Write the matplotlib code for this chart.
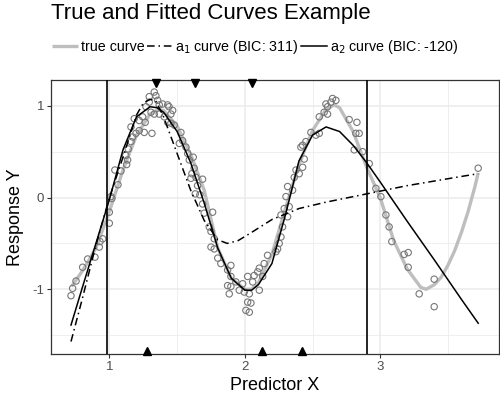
import numpy as np
import matplotlib
matplotlib.use("Agg")
import matplotlib.pyplot as plt
import matplotlib.transforms as mtransforms

plt.rcParams['font.family'] = ['Liberation Sans', 'DejaVu Sans']

# ---------------------------
# data
# ---------------------------

# observed (x, y) pairs
obs_x = [0.716, 0.728, 0.753, 0.802, 0.839, 0.893, 0.925, 0.93, 0.95, 0.999, 0.999, 1.011, 1.018, 1.063,
         1.04, 1.085, 1.127, 1.134, 1.12, 1.139, 1.159, 1.171, 1.159, 1.196, 1.22, 1.22, 1.183, 1.245,
         1.264, 1.257, 1.314, 1.27, 1.294, 1.294, 1.331, 1.343, 1.356, 1.307, 1.331, 1.368, 1.368, 1.393,
         1.405, 1.43, 1.44, 1.454, 1.467, 1.43, 1.454, 1.479, 1.528, 1.541, 1.516, 1.565, 1.578, 1.59,
         1.619, 1.626, 1.609, 1.639, 1.688, 1.634, 1.668,
         1.602, 1.651, 1.688, 1.70, 1.762, 1.737, 1.75, 1.774, 1.75, 1.774, 1.80, 1.823, 1.897, 1.873,
         1.897, 1.873, 1.897, 1.885, 1.934, 1.959, 1.984, 1.996, 2.021, 2.033, 2.021, 2.045, 2.008, 2.033,
         2.058, 2.069, 2.095, 2.107, 2.107, 2.132, 2.143, 2.168,
         2.23, 2.242, 2.254, 2.267, 2.279, 2.267, 2.316, 2.291, 2.328, 2.304, 2.316, 2.353, 2.365, 2.378,
         2.402, 2.427, 2.439, 2.414, 2.427, 2.451, 2.488, 2.525, 2.55, 2.55, 2.586, 2.599, 2.636, 2.648,
         2.673, 2.611, 2.611,
         2.771, 2.828, 2.82, 2.845, 2.808, 2.87, 2.919, 2.968, 3.005, 3.042, 3.066, 3.086, 3.177, 3.207,
         3.207, 3.288, 3.399, 3.399, 3.724]
obs_y = [-1.07, -0.99, -0.91, -0.76, -0.67, -0.65, -0.54, -0.48, -0.45, -0.28, -0.16, 0.01, -0.01, 0.14,
         0.30, 0.29, 0.36, 0.41, 0.46, 0.53, 0.61, 0.66, 0.77, 0.70, 0.73, 0.84, 0.86, 0.88,
         0.82, 0.71, 0.70, 0.99, 1.04, 1.10, 1.15, 1.11, 1.06, 0.93, 0.91, 0.91, 1.01, 1.02,
         0.88, 1.01, 0.99, 0.91, 0.95, 0.82, 0.81, 0.79, 0.71, 0.62, 0.59, 0.55, 0.48, 0.41,
         0.44, 0.32, 0.26, 0.22, 0.20, 0.04, 0.03,
         0.21, 0.13, -0.07, -0.17, -0.16, -0.32, -0.37, -0.45, -0.54, -0.56, -0.66, -0.72, -0.74, -0.79,
         -0.86, -0.96, -0.97, -1.05, -0.92, -1.01, -0.94, -1.03, -0.86, -1.05, -1.14, -1.15, -1.23, -1.25,
         -0.92, -0.85, -0.81, -0.77, -1.01, -0.86, -0.72, -0.63,
         -0.59, -0.56, -0.50, -0.43, -0.32, -0.19, -0.21, -0.12, -0.10, 0.01, 0.12, 0.08, 0.22, 0.30,
         0.26, 0.33, 0.42, 0.55, 0.57, 0.61, 0.71, 0.68, 0.70, 0.88, 0.93, 1.02, 1.04, 1.08,
         1.06, 0.99, 0.91,
         0.85, 0.82, 0.70, 0.70, 0.52, 0.50, 0.37, 0.10, 0.01, -0.19, -0.32, -0.48, -0.62, -0.60,
         -0.76, -1.05, -0.89, -1.19, 0.32]

# true curve
true_x = [0.72, 0.8, 0.85, 0.9, 1.0, 1.1, 1.2, 1.3, 1.36, 1.4, 1.5, 1.6, 1.7, 1.8, 1.9, 2.0, 2.05,
          2.1, 2.2, 2.3, 2.4, 2.5, 2.6, 2.66, 2.7, 2.8, 2.9, 3.0, 3.1, 3.2, 3.3, 3.34, 3.4, 3.45,
          3.5, 3.55, 3.6, 3.65, 3.7, 3.724]
true_y = [-0.97, -0.80, -0.68, -0.55, -0.15, 0.30, 0.68, 0.91, 0.96, 0.95, 0.78, 0.47, 0.08, -0.55,
          -0.88, -1.0, -1.0, -0.93, -0.62, -0.12, 0.36, 0.73, 0.96, 1.01, 0.98, 0.72, 0.33, 0.0,
          -0.47, -0.78, -0.98, -1.0, -0.95, -0.87, -0.74, -0.58, -0.38, -0.15, 0.12, 0.27]

# a1 fit
a1_x = [0.716, 0.8, 0.9, 1.0, 1.1, 1.2, 1.25, 1.3, 1.34, 1.4, 1.5, 1.6, 1.7, 1.8, 1.87, 1.95, 2.05,
        2.2, 2.4, 2.6, 2.8, 3.0, 3.2, 3.4, 3.6, 3.724]
a1_y = [-1.57, -1.10, -0.52, 0.0, 0.44, 0.90, 1.03, 1.07, 1.06, 0.88, 0.48, 0.08, -0.25, -0.46,
        -0.50, -0.47, -0.38, -0.24, -0.12, -0.05, 0.01, 0.07, 0.13, 0.18, 0.23, 0.26]

# a2 fit
a2_x = [0.716, 0.8, 0.9, 1.0, 1.1, 1.2, 1.3, 1.35, 1.4, 1.5, 1.6, 1.7, 1.8, 1.9, 2.0, 2.05, 2.1, 2.2,
        2.3, 2.4, 2.5, 2.6, 2.7, 2.8, 2.9, 3.0, 3.2, 3.4, 3.6, 3.724]
a2_y = [-1.39, -0.98, -0.50, -0.02, 0.52, 0.88, 0.99, 0.98, 0.93, 0.72, 0.38, -0.06, -0.55, -0.88,
        -1.01, -1.01, -0.95, -0.72, -0.19, 0.40, 0.68, 0.77, 0.72, 0.57, 0.38, 0.17, -0.26, -0.68,
        -1.11, -1.37]

# vertical boundaries and knot markers
vlines_x = [0.979, 2.90]
top_knots = [1.345, 1.63, 2.055]
bottom_knots = [1.28, 2.127, 2.42]

legend_labels = ["true curve", r"a$_1$ curve (BIC: 311)", r"a$_2$ curve (BIC: -120)"]
xticks = [1, 2, 3]
yticks = [-1, 0, 1]

# ----
# plot
# ----

fig = plt.figure(figsize=(5.0, 3.96), dpi=100)
ax = fig.add_axes([0.1014, 0.106, 0.8956, 0.693])

ax.set_xlim(0.566, 3.874)
ax.set_ylim(-1.706, 1.286)

# theme_bw-like grid
ax.set_xticks(xticks)
ax.set_yticks(yticks)
ax.set_xticks([1.5, 2.5, 3.5], minor=True)
ax.set_yticks([-1.5, -0.5, 0.5], minor=True)
ax.grid(which='major', color='#EBEBEB', lw=1.1, zorder=0)
ax.grid(which='minor', color='#EBEBEB', lw=0.55, zorder=0)
ax.set_axisbelow(True)
ax.tick_params(which='minor', length=0)
ax.tick_params(which='major', length=2.8, width=0.8, color='#333333',
               labelsize=9.5, labelcolor='#4D4D4D', pad=2)
ax.set_xticklabels([str(t) for t in xticks])
ax.set_yticklabels([str(t) for t in yticks])
for s in ax.spines.values():
    s.set_color('#333333')
    s.set_linewidth(0.9)

l_true, = ax.plot(true_x, true_y, color='#BEBEBE', lw=2.4, solid_capstyle='butt', zorder=2)
ax.scatter(obs_x, obs_y, s=21, facecolors='none', edgecolors='#777777', linewidths=0.8, zorder=3)
l_a1, = ax.plot(a1_x, a1_y, color='black', lw=1.1, linestyle=(0, (5, 2.5, 1, 2.5)), zorder=4)
l_a2, = ax.plot(a2_x, a2_y, color='black', lw=1.1, zorder=4)

for vx in vlines_x:
    ax.axvline(vx, color='black', lw=1.2, zorder=4)

trans = mtransforms.blended_transform_factory(ax.transData, ax.transAxes)
ax.plot(top_knots, [0.989] * len(top_knots), 'v', color='black', ms=5.5, transform=trans,
        clip_on=False, zorder=5)
ax.plot(bottom_knots, [0.011] * len(bottom_knots), '^', color='black', ms=5.5, transform=trans,
        clip_on=False, zorder=5)

ax.set_xlabel("Predictor X", fontsize=13, labelpad=3)
ax.set_ylabel("Response Y", fontsize=13, labelpad=6)

fig.text(0.1014, 1 - 19 / 396, "True and Fitted Curves Example", fontsize=16, ha='left', va='baseline')

fig.legend([l_true, l_a1, l_a2], legend_labels, loc='center left', bbox_to_anchor=(0.104, 0.882),
           ncol=3, frameon=False, fontsize=10.3, handlelength=1.8, handletextpad=0.2,
           columnspacing=0.15, borderpad=0, borderaxespad=0)

fig.savefig("out.png", dpi=100)
